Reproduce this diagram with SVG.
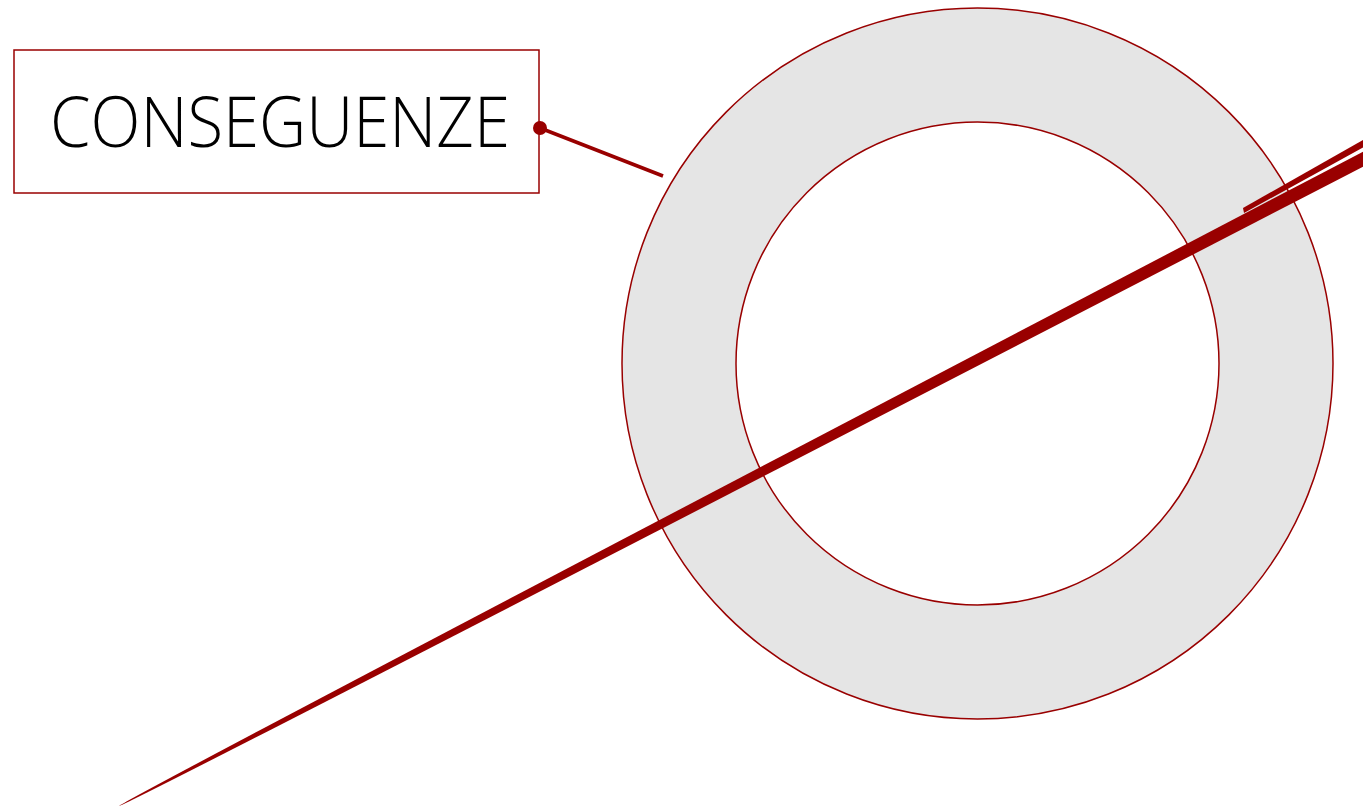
<svg xmlns="http://www.w3.org/2000/svg" width="1363" height="807" viewBox="0 0 1363 807">
<style>
.ring{fill:#e5e5e5;fill-rule:evenodd;stroke:#990000;stroke-width:1.5}
.box{fill:#ffffff;stroke:#990000;stroke-width:1.5}
.lbl{font-family:"Open Sans","Roboto","Liberation Sans",sans-serif;font-weight:300;font-size:70px;fill:#000000}
.red{fill:#990000}
.conn{stroke:#990000;stroke-width:3.5;fill:none}
</style>
<rect width="1363" height="807" fill="#ffffff"/>
<g id="ring">
<path class="ring" d="M622,363.5 A355.5,355.5 0 1 0 1333,363.5 A355.5,355.5 0 1 0 622,363.5 Z M736,363.5 A241.5,241.5 0 1 1 1219,363.5 A241.5,241.5 0 1 1 736,363.5 Z"/>
</g>
<g id="label">
<rect class="box" x="14" y="50" width="525" height="143"/>
<text class="lbl" x="50" y="147" textLength="460" lengthAdjust="spacingAndGlyphs">CONSEGUENZE</text>
</g>
<g id="connectors">
<line class="conn" x1="540" y1="128" x2="663" y2="176"/>
<circle class="red" cx="540" cy="128" r="7"/>
<path class="red" transform="translate(119,806) rotate(-27.47)" d="M0,0 Q0,3.36 1430,6.72 L1430,-6.72 Q0,-3.36 0,0 Z"/>
<polygon class="red" points="1243,208 1370,136 1370,143.6 1244,213"/>
</g>
</svg>
